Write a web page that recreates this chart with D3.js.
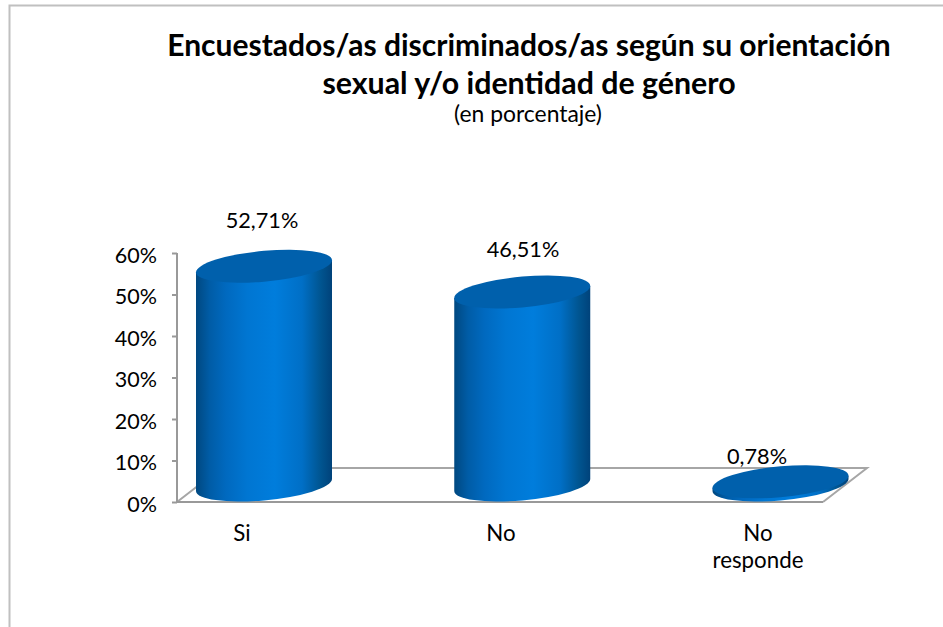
<!DOCTYPE html>
<html><head><meta charset="utf-8">
<script src="https://cdn.jsdelivr.net/npm/d3@7"></script>
<style>html,body{margin:0;padding:0;background:#fff}svg{display:block}text{font-family:Lato,"Open Sans",sans-serif;fill:#000}</style>
</head><body><svg id="c" width="943" height="627"></svg>
<script>
const categories = ["Si", "No", "No responde"];
const values = [52.71, 46.51, 0.78];
const valueLabels = ["52,71%", "46,51%", "0,78%"];
const yTicks = [0, 10, 20, 30, 40, 50, 60];
const titleLines = ["Encuestados/as discriminados/as según su orientación", "sexual y/o identidad de género"];
const subtitle = "(en porcentaje)";

const svg = d3.select("#c");
const y = d3.scaleLinear().domain([0, 60]).range([502, 253]);
const x = d3.scalePoint().domain(categories).range([264, 780.5]);
const rx = 68, ry = 15.4, shear = -0.088, baseLift = 17;

// frame
svg.append("path").attr("d", "M9.5,627V5.5H943").attr("fill", "none").attr("stroke", "#c0c0c0").attr("stroke-width", 2);

// gradient
const g = svg.append("defs").append("linearGradient").attr("id", "cyl");
[[0, "#004880"], [0.1, "#005ca6"], [0.22, "#0069bf"], [0.38, "#0076d2"], [0.58, "#007ddc"], [0.78, "#006fc6"], [0.92, "#00548f"], [1, "#00427a"]]
  .forEach(s => g.append("stop").attr("offset", s[0]).attr("stop-color", s[1]));

// floor
const wall = svg.append("g").attr("fill", "none");
wall.append("path").attr("d", "M177,502L221,468H867L823,502").attr("stroke", "#a6a6a6").attr("stroke-width", 2);
wall.append("path").attr("d", "M177,502H823").attr("stroke", "#999").attr("stroke-width", 2);

// axis
const ax = svg.append("g").attr("transform", "translate(177,0)")
  .call(d3.axisLeft(y).tickValues(yTicks).tickSize(5).tickPadding(15).tickFormat(d => d + "%"));
ax.selectAll("path,line").attr("stroke", "#999").attr("stroke-width", 2);
ax.select("path").attr("d", "M0,253V502");
ax.selectAll("text").attr("font-size", 21.5).attr("dy", "0.42em");

// cylinders
const cyl = svg.selectAll("g.cyl").data(categories).join("g").attr("class", "cyl");
const base = y(0) - baseLift;
const topY = (i) => base - (y(0) - y(values[i]));
cyl.attr("transform", (d, i) => `translate(${x(d)},0) translate(0,${topY(i)}) matrix(1,${shear},0,1,0,0) translate(0,${-topY(i)})`);
cyl.append("path").attr("fill", "url(#cyl)")
  .attr("d", (d, i) => `M${-rx},${topY(i)}V${base}A${rx},${ry} 0 0 0 ${rx},${base}V${topY(i)}Z`);
cyl.append("ellipse").attr("rx", rx).attr("ry", ry).attr("cy", (d, i) => topY(i)).attr("fill", "#0060ac");

// value labels
const lblX = [262, 523, 757], lblY = [228, 257, 464];
svg.selectAll("text.val").data(valueLabels).join("text").attr("class", "val")
  .attr("x", (d, i) => lblX[i]).attr("y", (d, i) => lblY[i]).attr("text-anchor", "middle").attr("font-size", 21.7).text(d => d);

// category labels
const catX = [242, 501, 758];
svg.selectAll("text.cat").data(categories).join("text").attr("class", "cat")
  .attr("text-anchor", "middle").attr("font-size", 22.3)
  .each(function (d, i) {
    const words = d === "No responde" ? ["No", "responde"] : [d];
    d3.select(this).selectAll("tspan").data(words).join("tspan")
      .attr("x", catX[i]).attr("y", (w, j) => 541 + j * 27).text(w => w);
  });

// title
svg.selectAll("text.title").data(titleLines).join("text").attr("class", "title")
  .attr("x", d => 529).attr("y", (d, i) => 56 + i * 38).attr("text-anchor", "middle")
  .attr("font-size", (d, i) => i ? 30.35 : 30).attr("font-weight", 700).text(d => d);
svg.append("text").attr("x", 528).attr("y", 122).attr("text-anchor", "middle").attr("font-size", 22.9).text(subtitle);
</script></body></html>
